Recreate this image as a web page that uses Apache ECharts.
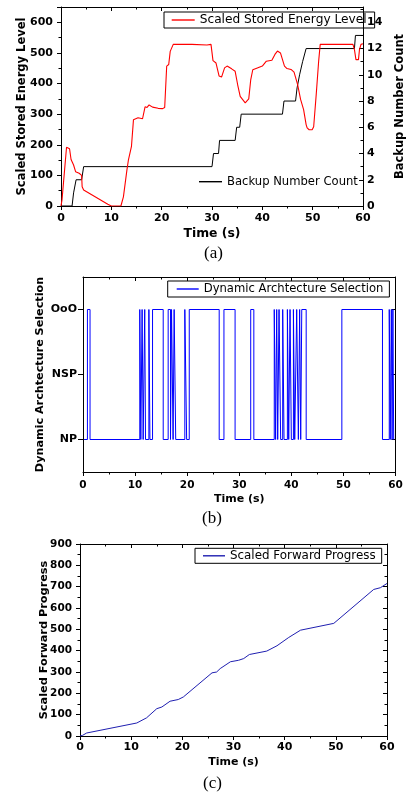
<!DOCTYPE html>
<html>
<head>
<meta charset="utf-8">
<script src="https://cdn.jsdelivr.net/npm/echarts@6/dist/echarts.min.js"></script>
<style>
  html, body { margin: 0; padding: 0; background: #fff; }
  #chart { width: 414px; height: 795px; }
</style>
</head>
<body>
<div id="chart"></div>
<script>
// ---- (a) stored energy (left axis) and number of backups (right axis) ----
const energyTime = [0, 0.2, 1.1, 1.7, 2.0, 2.3, 2.5, 2.9, 3.6, 4.1, 4.2, 4.5, 9.3, 10.0, 11.9, 12.4, 13.1, 13.4, 14.0, 14.4, 14.7, 15.3, 16.2, 16.7, 17.1, 17.5, 18.2, 19.3, 20.2, 20.6, 21.0, 21.4, 21.7, 22.3, 26.0, 29.0, 29.8, 30.2, 30.8, 31.4, 31.9, 32.5, 33.0, 33.9, 34.6, 35.1, 35.6, 36.6, 37.3, 37.7, 38.1, 39.0, 40.0, 40.8, 41.9, 42.5, 43.0, 43.6, 44.4, 44.9, 45.7, 46.3, 47.0, 47.6, 48.2, 48.7, 48.9, 49.3, 49.9, 50.2, 50.7, 51.2, 51.5, 55.0, 58.0, 58.3, 58.6, 59.1, 59.3, 59.6, 60];
const energyLevel = [0, 20, 192, 187, 152, 149, 134, 112, 107, 100, 63, 52, 6, 0, 0, 30, 118, 151, 195, 282, 287, 288, 285, 324, 322, 330, 323, 319, 318, 322, 457, 462, 505, 528, 528, 526, 528, 475, 467, 425, 421, 451, 457, 448, 440, 396, 358, 337, 350, 413, 445, 451, 457, 473, 476, 495, 506, 500, 457, 449, 446, 437, 397, 348, 315, 266, 255, 249, 249, 259, 363, 475, 528, 528, 528, 511, 478, 478, 511, 528, 530];

const backupTime  = [0, 2.2, 2.5, 2.8, 3.0, 4.1, 4.5, 30.0, 30.3, 31.3, 31.5, 34.6, 34.9, 35.5, 35.8, 44.0, 44.3, 46.6, 46.9, 47.2, 47.4, 47.7, 48.0, 48.3, 48.7, 58.3, 58.5, 60];
const backupCount = [0, 0, 1, 1, 2, 2, 3, 3, 4, 4, 5, 5, 6, 6, 7, 7, 8, 8, 9, 9, 10, 10, 11, 11, 12, 12, 13, 13];

// ---- (b) architecture in use; level holds from each switch time to the next ----
const archLabels = ['NP', 'NSP', 'OoO'];
const archTime  = [0.2, 0.85, 1.35, 10.9, 11.1, 11.35, 11.55, 11.85, 12.0, 12.65, 12.85, 13.35, 15.4, 16.35, 16.8, 17.0, 17.3, 17.5, 17.8, 19.55, 19.9, 20.4, 26.15, 27.06, 29.2, 32.2, 32.8, 36.72, 36.98, 37.19, 37.38, 37.64, 37.95, 38.34, 38.6, 39.24, 39.5, 39.75, 40.0, 40.4, 40.65, 41.03, 41.35, 41.6, 41.8, 42.0, 42.85, 49.7, 57.5, 58.8, 59.0, 59.2, 59.35, 59.5, 59.65, 59.75];
const archLevel = [0, 2, 0, 2, 0, 2, 0, 2, 0, 2, 0, 2, 0, 2, 0, 2, 0, 2, 0, 2, 0, 2, 0, 2, 0, 2, 0, 2, 0, 2, 0, 2, 0, 2, 0, 2, 0, 2, 0, 2, 0, 2, 0, 2, 0, 2, 0, 2, 0, 2, 0, 2, 0, 2, 0, 0];

// ---- (c) scaled forward progress ----
const progressTime  = [0, 0.5, 1.3, 11.1, 13.0, 15.0, 16.0, 17.6, 19.2, 20.2, 25.8, 26.7, 27.4, 29.4, 31.0, 32.0, 33.1, 36.5, 38.5, 40.8, 43.1, 49.6, 57.4, 58.7, 60];
const progressValue = [0, 3, 14, 61, 85, 128, 136, 163, 171, 183, 296, 300, 316, 348, 355, 363, 382, 398, 423, 462, 496, 528, 687, 695, 715];

const zip = (xs, ys) => xs.map((x, i) => [x, ys[i]]);

const BOLD = 'DejaVu Sans';
const LEGEND_FONT = 'DejaVu Sans';
const ink = { color: '#000', width: 1 };

function timeAxis(gridIndex, labelSize, nameSize, margin, nameGap) {
  return {
    type: 'value', gridIndex, position: 'bottom', min: 0, max: 60, interval: 10,
    axisLine: { show: true, onZero: false, lineStyle: ink },
    axisTick: { show: true, inside: false, length: 4, lineStyle: ink },
    minorTick: { show: true, splitNumber: 2, length: 2.5, lineStyle: ink },
    splitLine: { show: false },
    axisLabel: { color: '#000', fontFamily: BOLD, fontWeight: 'bold', fontSize: labelSize, margin },
    name: 'Time (s)', nameLocation: 'middle', nameGap, nameMoveOverlap: false,
    nameTextStyle: { color: '#000', fontFamily: BOLD, fontWeight: 'bold', fontSize: nameSize }
  };
}
function topFrame(gridIndex) {
  return {
    type: 'value', gridIndex, position: 'top', min: 0, max: 60, interval: 10,
    axisLine: { show: true, onZero: false, lineStyle: ink },
    axisTick: { show: true, inside: true, length: 4, lineStyle: ink },
    minorTick: { show: true, splitNumber: 2, length: 2.5, lineStyle: ink },
    splitLine: { show: false }, axisLabel: { show: false }
  };
}
function titleFont(size) {
  return { color: '#000', fontFamily: BOLD, fontWeight: 'bold', fontSize: size };
}
function legendBox(name, left, top, pad, size, extra) {
  return Object.assign({
    data: [name], left, top, orient: 'horizontal', icon: 'rect',
    itemWidth: 23, itemHeight: 1.4, padding: pad, selectedMode: false,
    borderColor: '#000', borderWidth: 1, borderRadius: 0,
    textStyle: { fontFamily: LEGEND_FONT, fontSize: size, color: '#000', lineHeight: 14 }
  }, extra || {});
}
const serif = { fontFamily: '"Liberation Serif", serif', fontWeight: 'normal', fontSize: 17, color: '#000' };

const option = {
  animation: false,
  backgroundColor: '#fff',
  grid: [
    { left: 61, top: 7, width: 317, height: 199 },
    { left: 83, top: 277, width: 312.5, height: 195 },
    { left: 80, top: 544, width: 307, height: 192 }
  ],
  title: [
    { text: '(a)', left: 204, top: 245, padding: 0, textStyle: serif },
    { text: '(b)', left: 202, top: 510, padding: 0, textStyle: serif },
    { text: '(c)', left: 203, top: 775, padding: 0, textStyle: serif }
  ],
  legend: [
    legendBox('Scaled Stored Energy Level', 164, 12, [1, 8, 1, 7.7], 12.2),
    legendBox('Backup Number Count', 199, 174.7, 0, 11.6, { borderWidth: 0 }),
    legendBox('Dynamic Archtecture Selection', 167.7, 281, [1, 6, 1, 9], 11.6, { itemWidth: 22 }),
    legendBox('Scaled Forward Progress', 195, 548.3, [0.5, 6, 0.5, 8], 11.9, { itemWidth: 22 })
  ],
  xAxis: [
    timeAxis(0, 11, 12.4, 7, 21.5),
    topFrame(0),
    timeAxis(1, 10.5, 11, 8, 22),
    topFrame(1),
    timeAxis(2, 11, 11, 6, 20.5),
    topFrame(2)
  ],
  yAxis: [
    { // (a) left
      type: 'value', gridIndex: 0, position: 'left', min: 0, max: 650, interval: 100,
      axisLine: { show: true, onZero: false, lineStyle: ink },
      axisTick: { show: true, inside: false, length: 4, lineStyle: ink },
      minorTick: { show: true, splitNumber: 2, length: 2.5, lineStyle: ink },
      splitLine: { show: false },
      axisLabel: { color: '#000', fontFamily: BOLD, fontWeight: 'bold', fontSize: 11, margin: 8, showMaxLabel: false },
      name: 'Scaled Stored Energy Level', nameLocation: 'middle', nameRotate: 90, nameGap: 33,
      nameMoveOverlap: false, nameTextStyle: titleFont(11.5)
    },
    { // (a) right
      type: 'value', gridIndex: 0, position: 'right', min: 0, max: 650 / 600 * 14, interval: 2,
      axisLine: { show: true, onZero: false, lineStyle: ink },
      axisTick: { show: true, inside: true, length: 4, lineStyle: ink },
      minorTick: { show: true, splitNumber: 2, length: 2.5, lineStyle: ink },
      splitLine: { show: false },
      axisLabel: { color: '#000', fontFamily: BOLD, fontWeight: 'bold', fontSize: 11, margin: 4, showMaxLabel: false },
      name: 'Backup Number Count', nameLocation: 'middle', nameRotate: 90, nameGap: 31,
      nameMoveOverlap: false, nameTextStyle: titleFont(11.5)
    },
    { // (b) left
      type: 'value', gridIndex: 1, position: 'left', min: -0.5, max: 2.5, interval: 0.5,
      axisLine: { show: true, onZero: false, lineStyle: ink },
      axisTick: { show: true, inside: false, length: 5, lineStyle: ink, customValues: [0, 1, 2] },
      splitLine: { show: false },
      axisLabel: {
        color: '#000', fontFamily: BOLD, fontWeight: 'bold', fontSize: 11, margin: 6,
        customValues: [0, 1, 2], formatter: v => archLabels[Math.round(v)]
      },
      name: 'Dynamic Archtecture Selection', nameLocation: 'middle', nameRotate: 90, nameGap: 37,
      nameMoveOverlap: false, nameTextStyle: titleFont(11.2)
    },
    { // (b) right frame
      type: 'value', gridIndex: 1, position: 'right', min: -0.5, max: 2.5, interval: 0.5,
      axisLine: { show: true, onZero: false, lineStyle: ink },
      axisTick: { show: true, inside: true, length: 4, lineStyle: ink, customValues: [0, 1, 2] },
      splitLine: { show: false }, axisLabel: { show: false }
    },
    { // (c) left
      type: 'value', gridIndex: 2, position: 'left', min: 0, max: 900, interval: 100,
      axisLine: { show: true, onZero: false, lineStyle: ink },
      axisTick: { show: true, inside: false, length: 4, lineStyle: ink },
      minorTick: { show: true, splitNumber: 2, length: 2.5, lineStyle: ink },
      splitLine: { show: false },
      axisLabel: { color: '#000', fontFamily: BOLD, fontWeight: 'bold', fontSize: 10.5, margin: 8 },
      name: 'Scaled Forward Progress', nameLocation: 'middle', nameRotate: 90, nameGap: 30,
      nameMoveOverlap: false, nameTextStyle: titleFont(11.3)
    },
    { // (c) right frame
      type: 'value', gridIndex: 2, position: 'right', min: 0, max: 900, interval: 100,
      axisLine: { show: true, onZero: false, lineStyle: ink },
      axisTick: { show: true, inside: true, length: 4, lineStyle: ink },
      minorTick: { show: true, splitNumber: 2, length: 2.5, lineStyle: ink },
      splitLine: { show: false }, axisLabel: { show: false }
    }
  ],
  series: [
    {
      name: 'Backup Number Count', type: 'line', xAxisIndex: 0, yAxisIndex: 1,
      data: zip(backupTime, backupCount), showSymbol: false, symbol: 'none',
      itemStyle: { color: '#000' }, lineStyle: { color: '#000', width: 1 }
    },
    {
      name: 'Scaled Stored Energy Level', type: 'line', xAxisIndex: 0, yAxisIndex: 0,
      data: zip(energyTime, energyLevel), showSymbol: false, symbol: 'none',
      itemStyle: { color: '#ff0000' }, lineStyle: { color: '#ff0000', width: 1.1 }
    },
    {
      name: 'Dynamic Archtecture Selection', type: 'line', xAxisIndex: 2, yAxisIndex: 2,
      data: zip(archTime, archLevel), step: 'end', showSymbol: false, symbol: 'none',
      itemStyle: { color: '#0000ff' }, lineStyle: { color: '#0000ff', width: 1 }
    },
    {
      name: 'Scaled Forward Progress', type: 'line', xAxisIndex: 4, yAxisIndex: 4,
      data: zip(progressTime, progressValue), showSymbol: false, symbol: 'none',
      itemStyle: { color: '#1f1fb0' }, lineStyle: { color: '#1f1fb0', width: 1 }
    }
  ]
};

const chart = echarts.init(document.getElementById('chart'), null, { renderer: 'canvas' });
chart.setOption(option);
</script>
</body>
</html>
